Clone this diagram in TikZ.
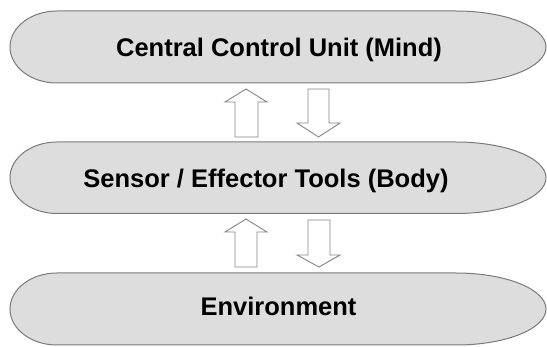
\documentclass[tikz,border=0pt]{standalone}
\usepackage{fontspec}
\setmainfont{Liberation Sans}
\begin{document}
\begin{tikzpicture}[x=1pt,y=-1pt,
  layer/.style={fill=shapegray,draw=edgegray,line width=1pt},
  label/.style={font=\fontsize{25.5}{30}\selectfont\bfseries,text=black,anchor=base,inner sep=0pt},
  blockarrow/.style={fill=white,draw=arrowgray,line width=0.9pt,line join=miter}]
\definecolor{shapegray}{HTML}{DDDDDD}
\definecolor{edgegray}{HTML}{7A7A7A}
\definecolor{arrowgray}{HTML}{858585}
\useasboundingbox (0,0) rectangle (547,347);
% layer shapes
\path[layer] (57,11) -- (456,11) arc[start angle=-90,end angle=90,x radius=90,y radius=36]
  -- (57,83) arc[start angle=90,end angle=270,x radius=47,y radius=36] -- cycle;
\path[layer] (57,142) -- (456,142) arc[start angle=-90,end angle=90,x radius=90,y radius=35.75]
  -- (57,213.5) arc[start angle=90,end angle=270,x radius=47,y radius=35.75] -- cycle;
\path[layer] (57,273) -- (456,273) arc[start angle=-90,end angle=90,x radius=90,y radius=36]
  -- (57,345) arc[start angle=90,end angle=270,x radius=47,y radius=36] -- cycle;
\node[label] (mind) at (279,57) {Central Control Unit (Mind)};
\node[label] (body) at (266,188) {Sensor / Effector Tools (Body)};
\node[label] (env) at (278.5,316) {Environment};
% block arrows between the layers
\draw[blockarrow] (246,89) -- (267,102) -- (258,102) -- (258,137) -- (235,137) -- (235,102) -- (225,102) -- cycle;
\draw[blockarrow] (308,89) -- (329,89) -- (329,123) -- (340,123) -- (318.5,137) -- (297,123) -- (308,123) -- cycle;
\draw[blockarrow] (246,219) -- (267,232) -- (257,232) -- (257,267) -- (235,267) -- (235,232) -- (225,232) -- cycle;
\draw[blockarrow] (308,220) -- (330,220) -- (330,255) -- (340,255) -- (319,267) -- (297,255) -- (308,255) -- cycle;
\end{tikzpicture}
\end{document}
